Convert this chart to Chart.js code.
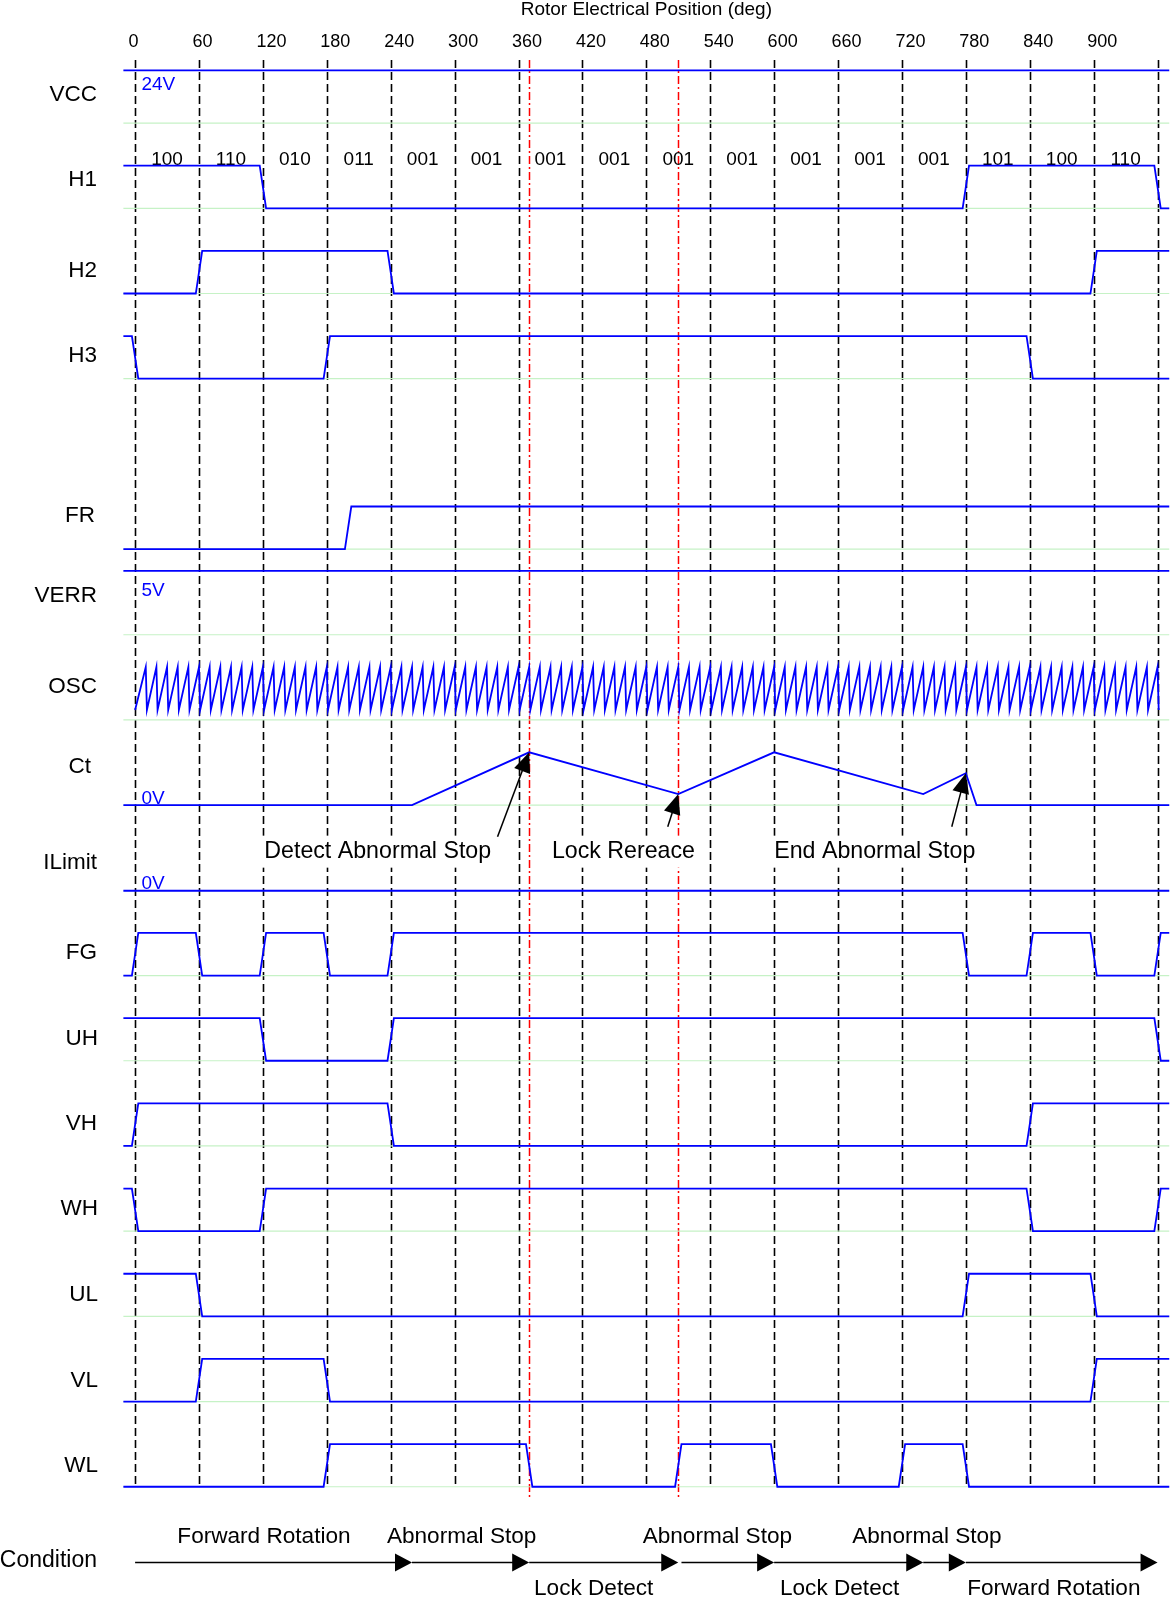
<!DOCTYPE html>
<html>
<head>
<meta charset="utf-8">
<title>Timing chart</title>
<script src="https://cdn.jsdelivr.net/npm/chart.js@4.4.0/dist/chart.umd.min.js"></script>
<style>
  html, body { margin: 0; padding: 0; background: #ffffff; }
</style>
</head>
<body>
<canvas id="timing" width="1170" height="1605"></canvas>
<script>
// DATA (degrees on x, signal level on y: 1 = logic high)

const positionTicks = [0, 60, 120, 180, 240, 300, 360, 420, 480, 540, 600, 660, 720, 780, 840, 900];
const gridPositions = [0, 60, 120, 180, 240, 300, 360, 420, 480, 540, 600, 660, 720, 780, 840, 900, 960];
const markerPositions = [370, 510];

const hallStates = ["100", "110", "010", "011", "001", "001", "001", "001", "001", "001", "001", "001", "001", "101", "100", "110"];
const hallStateCenters = [30, 90, 150, 210, 270, 330, 390, 450, 510, 570, 630, 690, 750, 810, 870, 930];

// digital signals: level before first edge, then level after each edge
const h1Edges = [120, 780, 960];
const h1Levels = [1, 0, 1, 0];
const h2Edges = [60, 240, 900];
const h2Levels = [0, 1, 0, 1];
const h3Edges = [0, 180, 840];
const h3Levels = [1, 0, 1, 0];
const frEdges = [200];
const frLevels = [0, 1];
const fgEdges = [0, 60, 120, 180, 240, 780, 840, 900, 960];
const fgLevels = [0, 1, 0, 1, 0, 1, 0, 1, 0, 1];
const uhEdges = [120, 240, 960];
const uhLevels = [1, 0, 1, 0];
const vhEdges = [0, 240, 840];
const vhLevels = [0, 1, 0, 1];
const whEdges = [0, 120, 840, 960];
const whLevels = [1, 0, 1, 0, 1];
const ulEdges = [60, 780, 900];
const ulLevels = [1, 0, 1, 0];
const vlEdges = [60, 180, 900];
const vlLevels = [0, 1, 0, 1];
const wlEdges = [180, 370, 510, 600, 720, 780];
const wlLevels = [0, 1, 0, 1, 0, 1, 0];

// analog signals
const vccPos = [-11, 971];
const vccLevels = [1.24, 1.24];
const verrPos = [-11, 971];
const verrLevels = [1.5, 1.5];
const ctPos = [-11, 260, 370, 510, 600, 740, 780, 790, 971];
const ctLevels = [0, 0, 1.24, 0.26, 1.24, 0.26, 0.75, 0, 0];
const ilimitPos = [-11, 971];
const ilimitLevels = [0, 0];

const oscPeaks = [10, 20, 30, 40, 50, 60, 70, 80, 90, 100, 110, 120, 130, 140, 150, 160, 170, 180, 190, 200,
  210, 220, 230, 240, 250, 260, 270, 280, 290, 300, 310, 320, 330, 340, 350, 360, 370, 380, 390, 400,
  410, 420, 430, 440, 450, 460, 470, 480, 490, 500, 510, 520, 530, 540, 550, 560, 570, 580, 590, 600,
  610, 620, 630, 640, 650, 660, 670, 680, 690, 700, 710, 720, 730, 740, 750, 760, 770, 780, 790, 800,
  810, 820, 830, 840, 850, 860, 870, 880, 890, 900, 910, 920, 930, 940, 950, 960];
const oscStart = 0;
const oscHigh = 1.24;
const oscLow = 0.235;

const voltageLabels = ["24V", "5V", "0V", "0V"];

const notes = ["Detect Abnormal Stop", "Lock Rereace", "End Abnormal Stop"];
const noteTips = [370, 510, 780];

const conditionFrom = [0, 260, 370, 513, 600, 740, 780];
const conditionTo = [260, 370, 510, 600, 740, 780, 960];
const conditionUpper = ["Forward Rotation", "Abnormal Stop", "Abnormal Stop", "Abnormal Stop"];
const conditionLower = ["Lock Detect", "Lock Detect", "Forward Rotation"];

// LAYOUT

const X_MIN = -126.85, X_MAX = 971.7;
const X_START = -11, X_END = 971;
const ROW = 85.2;               // px per row unit
const Y_MAX = 1605 / ROW;
const HALF = 0.5;               // row units per logic level
const EDGE = 3;                 // half ramp width of an edge, deg
const FONT = "'Liberation Sans', Arial, sans-serif";
const BLUE = "#0000ff";
const GREEN = "#c6f2c6";

function digital(edges, levels) {
  const pts = [{ x: X_START, y: levels[0] }];
  edges.forEach((t, i) => {
    pts.push({ x: t - EDGE, y: levels[i] });
    pts.push({ x: t + EDGE, y: levels[i + 1] });
  });
  pts.push({ x: X_END, y: levels[levels.length - 1] });
  return pts;
}

function analog(pos, levels) {
  return pos.map((p, i) => ({ x: p, y: levels[i] }));
}

function saw(start, peaks, hi, lo) {
  const pts = [{ x: start, y: lo }];
  peaks.forEach(p => {
    pts.push({ x: p, y: hi });
    pts.push({ x: p + 1.1, y: lo });
  });
  return pts;
}

const rows = [
  { name: "VCC",    base: 1.445,  labelY: 1.117,  labelX: 97, pts: analog(vccPos, vccLevels) },
  { name: "H1",     base: 2.445,  labelY: 2.115,  labelX: 97, pts: digital(h1Edges, h1Levels) },
  { name: "H2",     base: 3.445,  labelY: 3.181,  labelX: 97, pts: digital(h2Edges, h2Levels) },
  { name: "H3",     base: 4.445,  labelY: 4.178,  labelX: 97, pts: digital(h3Edges, h3Levels) },
  { name: "FR",     base: 6.445,  labelY: 6.056,  labelX: 95, pts: digital(frEdges, frLevels) },
  { name: "VERR",   base: 7.45,   labelY: 6.992,  labelX: 97, pts: analog(verrPos, verrLevels) },
  { name: "OSC",    base: 8.45,   labelY: 8.061,  labelX: 97, pts: saw(oscStart, oscPeaks, oscHigh, oscLow) },
  { name: "Ct",     base: 9.45,   labelY: 8.999,  labelX: 91, pts: analog(ctPos, ctLevels) },
  { name: "ILimit", base: 10.455, labelY: 10.129, labelX: 97, pts: analog(ilimitPos, ilimitLevels) },
  { name: "FG",     base: 11.45,  labelY: 11.185, labelX: 97, pts: digital(fgEdges, fgLevels) },
  { name: "UH",     base: 12.45,  labelY: 12.195, labelX: 98, pts: digital(uhEdges, uhLevels) },
  { name: "VH",     base: 13.45,  labelY: 13.192, labelX: 97, pts: digital(vhEdges, vhLevels) },
  { name: "WH",     base: 14.45,  labelY: 14.19,  labelX: 98, pts: digital(whEdges, whLevels) },
  { name: "UL",     base: 15.45,  labelY: 15.2,   labelX: 98, pts: digital(ulEdges, ulLevels) },
  { name: "VL",     base: 16.45,  labelY: 16.21,  labelX: 98, pts: digital(vlEdges, vlLevels) },
  { name: "WL",     base: 17.45,  labelY: 17.206, labelX: 98, pts: digital(wlEdges, wlLevels) }
];

const voltageY = [0.998, 6.933, 9.37, 10.367];
const noteCenters = [227.8, 458.5, 694.5];
const noteY = 9.996;
const noteTails = [{ x: 340.3, y: 9.82 }, { x: 500.1, y: 9.703 }, { x: 766.8, y: 9.703 }];
const conditionY = 18.34;
const conditionUpperX = [121, 306.6, 546.7, 743.5];
const conditionLowerX = [430.6, 661.5, 862.6];

const ctRow = rows.find(r => r.name === "Ct");
const ctAt = deg => ctRow.base - ctLevels[ctPos.indexOf(deg)] * HALF;

// DATASETS

const datasets = [];
rows.forEach(r => {
  datasets.push({
    data: [{ x: X_START, y: r.base }, { x: X_END, y: r.base }],
    borderColor: GREEN, borderWidth: 1.2, order: 2
  });
  datasets.push({
    data: r.pts.map(p => ({ x: p.x, y: r.base - p.y * HALF })),
    borderColor: BLUE, borderWidth: 1.8, order: 1
  });
});

// DRAWING HELPERS

function arrowHead(ctx, x0, y0, x1, y1, len, half) {
  const a = Math.atan2(y1 - y0, x1 - x0);
  ctx.beginPath();
  ctx.moveTo(x1, y1);
  ctx.lineTo(x1 - len * Math.cos(a) + half * Math.sin(a), y1 - len * Math.sin(a) - half * Math.cos(a));
  ctx.lineTo(x1 - len * Math.cos(a) - half * Math.sin(a), y1 - len * Math.sin(a) + half * Math.cos(a));
  ctx.closePath();
  ctx.fill();
}

const decor = {
  id: "decor",
  beforeDatasetsDraw(chart) {
    const { ctx, scales: { x, y } } = chart;
    ctx.save();

    // axis title and ticks (labels start a little left of their line)
    ctx.fillStyle = "#000";
    ctx.textAlign = "center";
    ctx.textBaseline = "middle";
    ctx.font = "19px " + FONT;
    ctx.fillText("Rotor Electrical Position (deg)", x.getPixelForValue(480), 10);
    ctx.font = "18px " + FONT;
    ctx.textAlign = "left";
    positionTicks.forEach(t => ctx.fillText(String(t), x.getPixelForValue(t) - 6.5, 42));

    // dashed position lines
    ctx.strokeStyle = "#000";
    ctx.lineWidth = 1.6;
    ctx.setLineDash([8, 4]);
    gridPositions.forEach(t => {
      const px = Math.round(x.getPixelForValue(t)) + 0.5;
      ctx.beginPath();
      ctx.moveTo(px, 60);
      ctx.lineTo(px, 1488);
      ctx.stroke();
    });

    // red markers
    ctx.strokeStyle = "#ff0000";
    ctx.lineWidth = 1.5;
    ctx.setLineDash([8, 3, 2, 3]);
    markerPositions.forEach(t => {
      const px = Math.round(x.getPixelForValue(t)) + 0.5;
      ctx.beginPath();
      ctx.moveTo(px, 60);
      ctx.lineTo(px, 1500);
      ctx.stroke();
    });
    ctx.setLineDash([]);

    // signal names
    ctx.fillStyle = "#000";
    ctx.textAlign = "right";
    ctx.font = "22.5px " + FONT;
    rows.forEach(r => ctx.fillText(r.name, r.labelX, y.getPixelForValue(r.labelY)));
    ctx.font = "23px " + FONT;
    ctx.fillText("Condition", 97, y.getPixelForValue(18.32));

    // voltage marks
    ctx.fillStyle = BLUE;
    ctx.textAlign = "left";
    ctx.font = "19px " + FONT;
    voltageLabels.forEach((v, i) => ctx.fillText(v, x.getPixelForValue(6), y.getPixelForValue(voltageY[i])));

    // hall states
    ctx.fillStyle = "#000";
    ctx.textAlign = "center";
    hallStates.forEach((s, i) => ctx.fillText(s, x.getPixelForValue(hallStateCenters[i]), y.getPixelForValue(1.878)));

    // notes with white boxes
    ctx.font = "23.2px " + FONT;
    notes.forEach((n, i) => {
      const cx = x.getPixelForValue(noteCenters[i]);
      const cy = y.getPixelForValue(noteY);
      const w = ctx.measureText(n).width;
      ctx.fillStyle = "#fff";
      ctx.fillRect(cx - w / 2 - 5, cy - 16, w + 10, 32);
      ctx.fillStyle = "#000";
      ctx.fillText(n, cx, cy);
    });

    // condition arrows
    const cy = y.getPixelForValue(conditionY);
    ctx.strokeStyle = "#000";
    ctx.fillStyle = "#000";
    ctx.lineWidth = 1.5;
    conditionFrom.forEach((f, i) => {
      const a = x.getPixelForValue(f);
      const b = x.getPixelForValue(conditionTo[i]);
      ctx.beginPath();
      ctx.moveTo(a, cy);
      ctx.lineTo(b - 10, cy);
      ctx.stroke();
      arrowHead(ctx, a, cy, b, cy, 17, 9);
    });
    ctx.font = "22.6px " + FONT;
    conditionUpper.forEach((t, i) => ctx.fillText(t, x.getPixelForValue(conditionUpperX[i]), y.getPixelForValue(18.04)));
    conditionLower.forEach((t, i) => ctx.fillText(t, x.getPixelForValue(conditionLowerX[i]), y.getPixelForValue(18.65)));

    ctx.restore();
  },
  afterDatasetsDraw(chart) {
    const { ctx, scales: { x, y } } = chart;
    ctx.save();
    ctx.strokeStyle = "#000";
    ctx.fillStyle = "#000";
    ctx.lineWidth = 1.5;
    noteTips.forEach((t, i) => {
      const x0 = x.getPixelForValue(noteTails[i].x), y0 = y.getPixelForValue(noteTails[i].y);
      const x1 = x.getPixelForValue(t), y1 = y.getPixelForValue(ctAt(t));
      ctx.beginPath();
      ctx.moveTo(x0, y0);
      ctx.lineTo(x0 + (x1 - x0) * 0.8, y0 + (y1 - y0) * 0.8);
      ctx.stroke();
      arrowHead(ctx, x0, y0, x1, y1, 20, 8.5);
    });
    ctx.restore();
  }
};

// CHART

new Chart(document.getElementById("timing"), {
  type: "scatter",
  data: { datasets },
  options: {
    responsive: false,
    devicePixelRatio: 1,
    animation: false,
    layout: { padding: 0 },
    elements: { point: { radius: 0 }, line: { tension: 0, fill: false } },
    datasets: { scatter: { showLine: true, pointRadius: 0 } },
    scales: {
      x: { type: "linear", min: X_MIN, max: X_MAX, display: false },
      y: { type: "linear", min: 0, max: Y_MAX, reverse: true, display: false }
    },
    plugins: { legend: { display: false }, tooltip: { enabled: false } }
  },
  plugins: [decor]
});
</script>
</body>
</html>
